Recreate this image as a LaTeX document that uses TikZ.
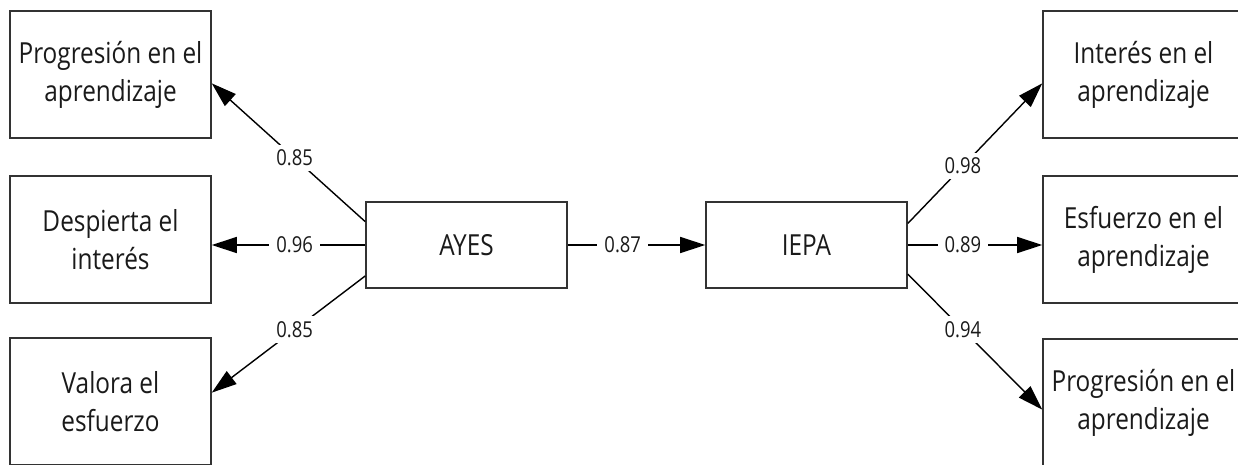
\documentclass[tikz,border=0pt]{standalone}
\usepackage{fontspec}
\setmainfont{Open Sans}[FakeStretch=0.84]
\usepackage{xcolor}
\usepackage{tikz}
\usetikzlibrary{arrows.meta}
\definecolor{boxline}{HTML}{333333}
\definecolor{txt}{HTML}{1A1A1A}
\tikzset{
item/.style={draw=boxline,line width=0.9pt,minimum width=4.02cm,minimum height=2.54cm,align=center,text=txt,inner sep=0pt,font=\fontsize{16.5}{21.5}\selectfont},
factor/.style={item,minimum height=1.72cm},
load/.style={draw=black,line width=0.8pt,-{Triangle[length=0.5cm,width=0.32cm]}},
coef/.style={fill=white,text=txt,inner xsep=4pt,inner ysep=3pt,font=\fontsize{12.5}{14}\selectfont}
}

\begin{document}
\begin{tikzpicture}[x=0.02cm,y=-0.02cm]
\useasboundingbox(0,0)rectangle(1238,464);
% indicadores
\node[item](prog1)at(110.5,74.5){Progresión en el\\aprendizaje};
\node[item](desp)at(110.5,239.5){Despierta el\\interés};
\node[item](valora)at(110.5,401.5){Valora el\\esfuerzo};
\node[item](inter)at(1143.5,74.5){Interés en el\\aprendizaje};
\node[item](esfu)at(1143.5,239.5){Esfuerzo en el\\aprendizaje};
\node[item](prog2)at(1143.5,402.5){Progresión en el\\aprendizaje};
% factores
\node[factor](ayes)at(466.5,245){AYES};
\node[factor](iepa)at(806.5,245){IEPA};
% cargas
\draw[load](ayes.167)--node[coef,pos=0.46]{0.85}(prog1.-5);
\draw[load](ayes.west)--node[coef,pos=0.46]{0.96}(ayes.west-|desp.east);
\draw[load](ayes.197)--node[coef,pos=0.46]{0.85}(valora.5);
\draw[load](ayes.east)--node[coef,pos=0.4]{0.87}(ayes.east-|iepa.west);
\draw[load](iepa.12)--node[coef,pos=0.41]{0.98}(inter.185);
\draw[load](iepa.east)--node[coef,pos=0.41]{0.89}(iepa.east-|esfu.west);
\draw[load](iepa.-16)--node[coef,pos=0.41]{0.94}(prog2.184);
\end{tikzpicture}
\end{document}
